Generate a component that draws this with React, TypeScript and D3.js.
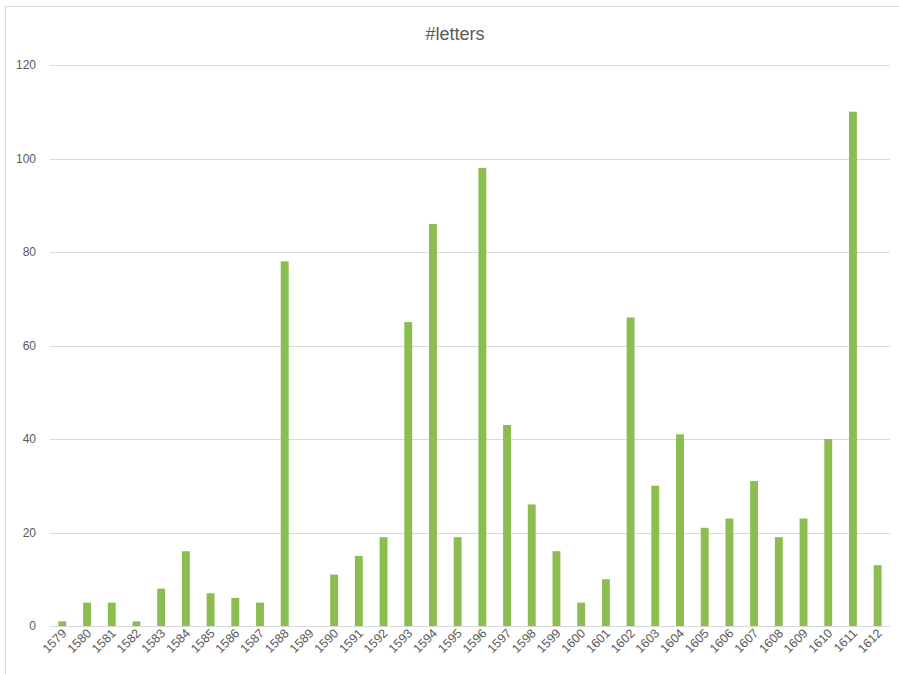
import React from "react";
import * as d3 from "d3";

const years = [
  "1579","1580","1581","1582","1583","1584","1585","1586","1587","1588","1589",
  "1590","1591","1592","1593","1594","1595","1596","1597","1598","1599","1600",
  "1601","1602","1603","1604","1605","1606","1607","1608","1609","1610","1611","1612",
];
const letters = [
  1, 5, 5, 1, 8, 16, 7, 6, 5, 78, 0,
  11, 15, 19, 65, 86, 19, 98, 43, 26, 16, 5,
  10, 66, 30, 41, 21, 23, 31, 19, 23, 40, 110, 13,
];
const yTicks = [0, 20, 40, 60, 80, 100, 120];
const title = "#letters";

const W = 899;
const H = 674;
const M = { left: 50, right: 9, top: 65, bottom: 48 };

export default function App() {
  const x = d3
    .scaleBand<string>()
    .domain(years)
    .range([M.left, W - M.right])
    .paddingInner(0.68)
    .paddingOuter(0.34);
  const y = d3.scaleLinear().domain([0, 120]).range([H - M.bottom, M.top]);
  const font = "Liberation Sans, Arial, sans-serif";
  const textColor = "#595959";

  return (
    <svg
      width={W}
      height={H}
      style={{ position: "absolute", left: 0, top: 0, background: "#fff" }}
      fontFamily={font}
    >
      <rect x={5.5} y={6.5} width={W + 10} height={H + 10} fill="#fff" stroke="#d9d9d9" />
      <text x={455} y={40} textAnchor="middle" fontSize={18} fill={textColor}>
        {title}
      </text>
      {yTicks.map((t) => (
        <g key={t}>
          <line
            x1={M.left}
            x2={W - M.right}
            y1={Math.round(y(t)) + 0.5}
            y2={Math.round(y(t)) + 0.5}
            stroke="#d9d9d9"
            strokeWidth={1}
          />
          <text
            x={36}
            y={y(t) + 4}
            textAnchor="end"
            fontSize={12}
            fill={textColor}
          >
            {t}
          </text>
        </g>
      ))}
      {years.map((yr, i) => (
        <rect
          key={yr}
          x={x(yr)!}
          y={y(letters[i])}
          width={x.bandwidth()}
          height={y(0) - y(letters[i])}
          fill="#8cbd50"
        />
      ))}
      {years.map((yr) => {
        const cx = x(yr)! + x.bandwidth() / 2 + 5;
        const cy = H - M.bottom + 8;
        return (
          <text
            key={"l" + yr}
            x={cx}
            y={cy}
            transform={`rotate(-45 ${cx} ${cy})`}
            textAnchor="end"
            fontSize={12.5}
            fill={textColor}
          >
            {yr}
          </text>
        );
      })}
    </svg>
  );
}
